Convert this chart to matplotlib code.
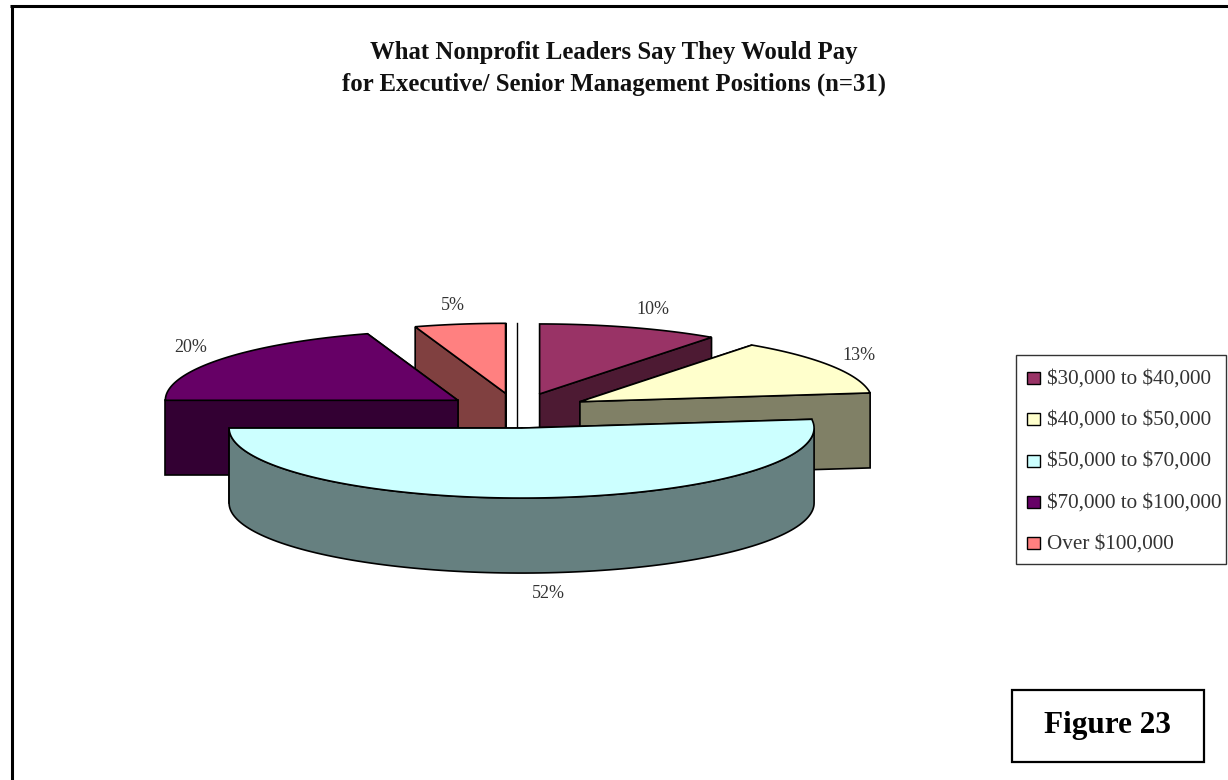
"""
Exploded 3D-style pie: what nonprofit leaders say they would pay.
"""
import numpy as np
import matplotlib
matplotlib.use("Agg")
import matplotlib.pyplot as plt
from matplotlib.patches import Polygon, Rectangle

categories = ["$30,000 to $40,000", "$40,000 to $50,000", "$50,000 to $70,000",
              "$70,000 to $100,000", "Over $100,000"]
values = [10, 13, 52, 20, 5]
top_colors = ["#993366", "#FFFFCC", "#CCFFFF", "#660066", "#FF8080"]
wall_colors = ["#4D1A33", "#808066", "#668080", "#330033", "#804040"]
label_pos = [(653, 310), (859, 356), (548, 593), (191, 347), (453, 305)]
title = "What Nonprofit Leaders Say They Would Pay\nfor Executive/ Senior Management Positions (n=31)"

CX, CY = 517, 410.6
RX, RY = 292.5, 70
DEPTH = 75
EXPLODE = 0.25
SERIF = "Liberation Serif"

plt.rcParams["font.family"] = SERIF
fig = plt.figure(figsize=(12.28, 7.80), dpi=100)
ax = fig.add_axes([0, 0, 1, 1])
ax.set_xlim(0, 1228)
ax.set_ylim(780, 0)
ax.axis("off")


def project(theta, tx, ty):
    # theta is clockwise from the top of the pie, in radians
    return np.column_stack([tx + RX * np.sin(theta), ty - RY * np.cos(theta)])


def draw_slice(start, end, color, wall):
    mid = (start + end) / 2
    tx = CX + EXPLODE * RX * np.sin(mid)
    ty = CY - EXPLODE * RY * np.cos(mid)
    tip = np.array([[tx, ty]])
    down = np.array([0, DEPTH])
    # cut faces along the two radii, the one further back first
    rims = [project(np.array([a]), tx, ty) for a in (start, end)]
    rims.sort(key=lambda p: p[0, 1])
    for edge in rims:
        face = np.vstack([tip, edge, edge + down, tip + down])
        ax.add_patch(Polygon(face, closed=True, fc=wall, ec="black", lw=1.2, zorder=2))
    # outer wall, only where the rim faces the viewer
    lo, hi = max(start, np.pi / 2), min(end, 3 * np.pi / 2)
    if lo < hi:
        rim = project(np.linspace(lo, hi, 120), tx, ty)
        ax.add_patch(Polygon(np.vstack([rim, rim[::-1] + down]), closed=True,
                             fc=wall, ec="black", lw=1.2, zorder=2))
    arc = project(np.linspace(start, end, 120), tx, ty)
    ax.add_patch(Polygon(np.vstack([tip, arc]), closed=True, fc=color, ec="black",
                         lw=1.2, zorder=2))


edges = np.cumsum([0] + values) / sum(values) * 2 * np.pi
# back slices first so the front ones paint over them
for i in [4, 0, 1, 3, 2]:
    draw_slice(edges[i], edges[i + 1], top_colors[i], wall_colors[i])

# stray vertical rule in the gap between the slices
ax.plot([CX, CX], [CY - RY - 18, CY + 17], color="black", lw=1.0, zorder=1)

for i, (x, y) in enumerate(label_pos):
    ax.text(x, y, f"{values[i]}%", ha="center", va="center", fontsize=13, color="#333333")

ax.text(614, 68.5, title, ha="center", va="center", fontsize=17.8, fontweight="bold",
        linespacing=1.48, color="#111111")

# only the top and left rules of the page frame are in the picture
ax.plot([10, 1228], [6, 6], color="black", lw=2.2, solid_capstyle="butt", zorder=0)
ax.plot([12, 12], [6, 780], color="black", lw=2.2, solid_capstyle="butt", zorder=0)

# legend
ax.add_patch(Rectangle((1016, 355), 210, 209, fc="white", ec="#333333", lw=1.0, zorder=3))
legend_y = np.linspace(378, 543, len(categories))
for i, name in enumerate(categories):
    ax.add_patch(Rectangle((1027, legend_y[i] - 6), 13, 12, fc=top_colors[i], ec="black",
                           lw=1.0, zorder=4))
    ax.text(1047, legend_y[i] + 1, name, ha="left", va="center", fontsize=15.2, color="#333333",
            zorder=4, parse_math=False)

# figure tag
ax.add_patch(Rectangle((1012, 690), 192, 72, fc="white", ec="black", lw=1.6, zorder=3))
ax.text(1108, 725, "Figure 23", ha="center", va="center", fontsize=22.5, fontweight="bold",
        color="black", zorder=4)

fig.savefig("out.png", dpi=100)
